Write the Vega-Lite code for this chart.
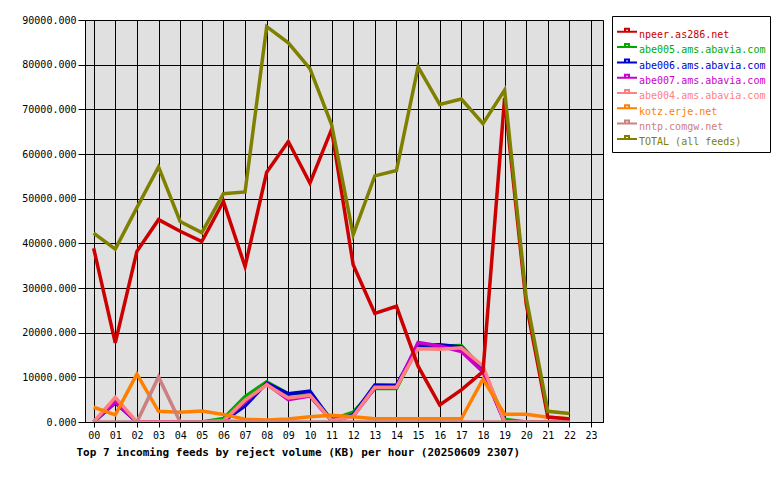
{
  "$schema": "https://vega.github.io/schema/vega-lite/v6.json",
  "width": 518,
  "height": 402,
  "autosize": {"type": "none"},
  "padding": {"left": 85, "top": 20, "right": 177, "bottom": 58},
  "background": "white",
  "config": {
    "font": "DejaVu Sans Mono",
    "view": {"fill": "#e0e0e0", "stroke": "black", "strokeWidth": 1},
    "axis": {
      "grid": true,
      "gridColor": "black",
      "gridOpacity": 1,
      "gridWidth": 1,
      "domainColor": "black",
      "tickColor": "black",
      "labelColor": "black",
      "labelFont": "DejaVu Sans Mono",
      "labelFontSize": 10,
      "labelOverlap": false,
      "labelFlush": false
    }
  },
  "data": {
    "values": [
      {"h":0,"f":"abe005.ams.abavia.com","v":0},{"h":1,"f":"abe005.ams.abavia.com","v":4600},{"h":2,"f":"abe005.ams.abavia.com","v":0},{"h":3,"f":"abe005.ams.abavia.com","v":0},{"h":4,"f":"abe005.ams.abavia.com","v":0},{"h":5,"f":"abe005.ams.abavia.com","v":0},{"h":6,"f":"abe005.ams.abavia.com","v":800},{"h":7,"f":"abe005.ams.abavia.com","v":5700},{"h":8,"f":"abe005.ams.abavia.com","v":9000},{"h":9,"f":"abe005.ams.abavia.com","v":6300},{"h":10,"f":"abe005.ams.abavia.com","v":6500},{"h":11,"f":"abe005.ams.abavia.com","v":500},{"h":12,"f":"abe005.ams.abavia.com","v":2200},{"h":13,"f":"abe005.ams.abavia.com","v":7500},{"h":14,"f":"abe005.ams.abavia.com","v":7500},{"h":15,"f":"abe005.ams.abavia.com","v":16800},{"h":16,"f":"abe005.ams.abavia.com","v":17000},{"h":17,"f":"abe005.ams.abavia.com","v":17100},{"h":18,"f":"abe005.ams.abavia.com","v":11800},{"h":19,"f":"abe005.ams.abavia.com","v":600},{"h":20,"f":"abe005.ams.abavia.com","v":0},{"h":21,"f":"abe005.ams.abavia.com","v":0},{"h":22,"f":"abe005.ams.abavia.com","v":0},
      {"h":0,"f":"abe006.ams.abavia.com","v":0},{"h":1,"f":"abe006.ams.abavia.com","v":4300},{"h":2,"f":"abe006.ams.abavia.com","v":0},{"h":3,"f":"abe006.ams.abavia.com","v":0},{"h":4,"f":"abe006.ams.abavia.com","v":0},{"h":5,"f":"abe006.ams.abavia.com","v":0},{"h":6,"f":"abe006.ams.abavia.com","v":200},{"h":7,"f":"abe006.ams.abavia.com","v":3600},{"h":8,"f":"abe006.ams.abavia.com","v":8700},{"h":9,"f":"abe006.ams.abavia.com","v":6300},{"h":10,"f":"abe006.ams.abavia.com","v":6900},{"h":11,"f":"abe006.ams.abavia.com","v":200},{"h":12,"f":"abe006.ams.abavia.com","v":1600},{"h":13,"f":"abe006.ams.abavia.com","v":8300},{"h":14,"f":"abe006.ams.abavia.com","v":8200},{"h":15,"f":"abe006.ams.abavia.com","v":17200},{"h":16,"f":"abe006.ams.abavia.com","v":17300},{"h":17,"f":"abe006.ams.abavia.com","v":16800},{"h":18,"f":"abe006.ams.abavia.com","v":11800},{"h":19,"f":"abe006.ams.abavia.com","v":0},{"h":20,"f":"abe006.ams.abavia.com","v":0},{"h":21,"f":"abe006.ams.abavia.com","v":0},{"h":22,"f":"abe006.ams.abavia.com","v":0},
      {"h":0,"f":"abe007.ams.abavia.com","v":0},{"h":1,"f":"abe007.ams.abavia.com","v":4500},{"h":2,"f":"abe007.ams.abavia.com","v":0},{"h":3,"f":"abe007.ams.abavia.com","v":0},{"h":4,"f":"abe007.ams.abavia.com","v":0},{"h":5,"f":"abe007.ams.abavia.com","v":0},{"h":6,"f":"abe007.ams.abavia.com","v":200},{"h":7,"f":"abe007.ams.abavia.com","v":4500},{"h":8,"f":"abe007.ams.abavia.com","v":8500},{"h":9,"f":"abe007.ams.abavia.com","v":5000},{"h":10,"f":"abe007.ams.abavia.com","v":5800},{"h":11,"f":"abe007.ams.abavia.com","v":300},{"h":12,"f":"abe007.ams.abavia.com","v":1300},{"h":13,"f":"abe007.ams.abavia.com","v":7600},{"h":14,"f":"abe007.ams.abavia.com","v":7700},{"h":15,"f":"abe007.ams.abavia.com","v":17800},{"h":16,"f":"abe007.ams.abavia.com","v":17000},{"h":17,"f":"abe007.ams.abavia.com","v":15800},{"h":18,"f":"abe007.ams.abavia.com","v":11200},{"h":19,"f":"abe007.ams.abavia.com","v":0},{"h":20,"f":"abe007.ams.abavia.com","v":0},{"h":21,"f":"abe007.ams.abavia.com","v":0},{"h":22,"f":"abe007.ams.abavia.com","v":0},
      {"h":0,"f":"abe004.ams.abavia.com","v":0},{"h":1,"f":"abe004.ams.abavia.com","v":5500},{"h":2,"f":"abe004.ams.abavia.com","v":0},{"h":3,"f":"abe004.ams.abavia.com","v":0},{"h":4,"f":"abe004.ams.abavia.com","v":0},{"h":5,"f":"abe004.ams.abavia.com","v":0},{"h":6,"f":"abe004.ams.abavia.com","v":300},{"h":7,"f":"abe004.ams.abavia.com","v":4900},{"h":8,"f":"abe004.ams.abavia.com","v":8300},{"h":9,"f":"abe004.ams.abavia.com","v":5400},{"h":10,"f":"abe004.ams.abavia.com","v":6000},{"h":11,"f":"abe004.ams.abavia.com","v":300},{"h":12,"f":"abe004.ams.abavia.com","v":1300},{"h":13,"f":"abe004.ams.abavia.com","v":7800},{"h":14,"f":"abe004.ams.abavia.com","v":7800},{"h":15,"f":"abe004.ams.abavia.com","v":16400},{"h":16,"f":"abe004.ams.abavia.com","v":16300},{"h":17,"f":"abe004.ams.abavia.com","v":16600},{"h":18,"f":"abe004.ams.abavia.com","v":12500},{"h":19,"f":"abe004.ams.abavia.com","v":0},{"h":20,"f":"abe004.ams.abavia.com","v":0},{"h":21,"f":"abe004.ams.abavia.com","v":0},{"h":22,"f":"abe004.ams.abavia.com","v":0},
      {"h":0,"f":"kotz.erje.net","v":3300},{"h":1,"f":"kotz.erje.net","v":1600},{"h":2,"f":"kotz.erje.net","v":10700},{"h":3,"f":"kotz.erje.net","v":2400},{"h":4,"f":"kotz.erje.net","v":2200},{"h":5,"f":"kotz.erje.net","v":2450},{"h":6,"f":"kotz.erje.net","v":1700},{"h":7,"f":"kotz.erje.net","v":600},{"h":8,"f":"kotz.erje.net","v":450},{"h":9,"f":"kotz.erje.net","v":650},{"h":10,"f":"kotz.erje.net","v":1200},{"h":11,"f":"kotz.erje.net","v":1500},{"h":12,"f":"kotz.erje.net","v":1200},{"h":13,"f":"kotz.erje.net","v":750},{"h":14,"f":"kotz.erje.net","v":750},{"h":15,"f":"kotz.erje.net","v":700},{"h":16,"f":"kotz.erje.net","v":700},{"h":17,"f":"kotz.erje.net","v":700},{"h":18,"f":"kotz.erje.net","v":9600},{"h":19,"f":"kotz.erje.net","v":1750},{"h":20,"f":"kotz.erje.net","v":1750},{"h":21,"f":"kotz.erje.net","v":1050},{"h":22,"f":"kotz.erje.net","v":750},
      {"h":0,"f":"nntp.comgw.net","v":0},{"h":1,"f":"nntp.comgw.net","v":0},{"h":2,"f":"nntp.comgw.net","v":0},{"h":3,"f":"nntp.comgw.net","v":10100},{"h":4,"f":"nntp.comgw.net","v":0},{"h":5,"f":"nntp.comgw.net","v":0},{"h":6,"f":"nntp.comgw.net","v":300},{"h":7,"f":"nntp.comgw.net","v":0},{"h":8,"f":"nntp.comgw.net","v":0},{"h":9,"f":"nntp.comgw.net","v":0},{"h":10,"f":"nntp.comgw.net","v":0},{"h":11,"f":"nntp.comgw.net","v":0},{"h":12,"f":"nntp.comgw.net","v":0},{"h":13,"f":"nntp.comgw.net","v":0},{"h":14,"f":"nntp.comgw.net","v":0},{"h":15,"f":"nntp.comgw.net","v":0},{"h":16,"f":"nntp.comgw.net","v":0},{"h":17,"f":"nntp.comgw.net","v":0},{"h":18,"f":"nntp.comgw.net","v":0},{"h":19,"f":"nntp.comgw.net","v":0},{"h":20,"f":"nntp.comgw.net","v":0},{"h":21,"f":"nntp.comgw.net","v":0},{"h":22,"f":"nntp.comgw.net","v":0},
      {"h":0,"f":"npeer.as286.net","v":38900},{"h":1,"f":"npeer.as286.net","v":17700},{"h":2,"f":"npeer.as286.net","v":38200},{"h":3,"f":"npeer.as286.net","v":45300},{"h":4,"f":"npeer.as286.net","v":42700},{"h":5,"f":"npeer.as286.net","v":40400},{"h":6,"f":"npeer.as286.net","v":49400},{"h":7,"f":"npeer.as286.net","v":34800},{"h":8,"f":"npeer.as286.net","v":55900},{"h":9,"f":"npeer.as286.net","v":62800},{"h":10,"f":"npeer.as286.net","v":53500},{"h":11,"f":"npeer.as286.net","v":65500},{"h":12,"f":"npeer.as286.net","v":35200},{"h":13,"f":"npeer.as286.net","v":24300},{"h":14,"f":"npeer.as286.net","v":25900},{"h":15,"f":"npeer.as286.net","v":12500},{"h":16,"f":"npeer.as286.net","v":3800},{"h":17,"f":"npeer.as286.net","v":7200},{"h":18,"f":"npeer.as286.net","v":11300},{"h":19,"f":"npeer.as286.net","v":72500},{"h":20,"f":"npeer.as286.net","v":26500},{"h":21,"f":"npeer.as286.net","v":1100},{"h":22,"f":"npeer.as286.net","v":700},
      {"h":0,"f":"TOTAL (all feeds)","v":42300},{"h":1,"f":"TOTAL (all feeds)","v":38700},{"h":2,"f":"TOTAL (all feeds)","v":48000},{"h":3,"f":"TOTAL (all feeds)","v":57100},{"h":4,"f":"TOTAL (all feeds)","v":44900},{"h":5,"f":"TOTAL (all feeds)","v":42400},{"h":6,"f":"TOTAL (all feeds)","v":51100},{"h":7,"f":"TOTAL (all feeds)","v":51500},{"h":8,"f":"TOTAL (all feeds)","v":88500},{"h":9,"f":"TOTAL (all feeds)","v":84900},{"h":10,"f":"TOTAL (all feeds)","v":79100},{"h":11,"f":"TOTAL (all feeds)","v":66600},{"h":12,"f":"TOTAL (all feeds)","v":41900},{"h":13,"f":"TOTAL (all feeds)","v":55100},{"h":14,"f":"TOTAL (all feeds)","v":56300},{"h":15,"f":"TOTAL (all feeds)","v":79500},{"h":16,"f":"TOTAL (all feeds)","v":71100},{"h":17,"f":"TOTAL (all feeds)","v":72300},{"h":18,"f":"TOTAL (all feeds)","v":66800},{"h":19,"f":"TOTAL (all feeds)","v":74300},{"h":20,"f":"TOTAL (all feeds)","v":27800},{"h":21,"f":"TOTAL (all feeds)","v":2400},{"h":22,"f":"TOTAL (all feeds)","v":1900}
    ]
  },
  "mark": {"type": "line", "strokeWidth": 3.5, "clip": true},
  "encoding": {
    "x": {
      "field": "h",
      "type": "quantitative",
      "scale": {"domain": [-0.4, 23.55], "nice": false, "zero": false},
      "axis": {
        "values": [0,1,2,3,4,5,6,7,8,9,10,11,12,13,14,15,16,17,18,19,20,21,22,23],
        "labelExpr": "datum.value < 10 ? '0' + datum.value : '' + datum.value",
        "tickSize": 5,
        "labelPadding": 3,
        "title": "Top 7 incoming feeds by reject volume (KB) per hour (20250609 2307)",
        "titleFont": "DejaVu Sans Mono",
        "titleFontSize": 11,
        "titleFontWeight": "bold",
        "titleColor": "black",
        "titleAlign": "left",
        "titleAnchor": "start",
        "titleBaseline": "alphabetic",
        "titleX": -9,
        "titleY": 33
      }
    },
    "y": {
      "field": "v",
      "type": "quantitative",
      "scale": {"domain": [0, 90000], "nice": false},
      "axis": {
        "values": [0,10000,20000,30000,40000,50000,60000,70000,80000,90000],
        "format": ".3f",
        "tickSize": 7,
        "labelPadding": 2,
        "title": null
      }
    },
    "color": {
      "field": "f",
      "type": "nominal",
      "scale": {
        "domain": ["npeer.as286.net","abe005.ams.abavia.com","abe006.ams.abavia.com","abe007.ams.abavia.com","abe004.ams.abavia.com","kotz.erje.net","nntp.comgw.net","TOTAL (all feeds)"],
        "range": ["#cc0000","#00aa00","#0000cc","#cc00cc","#ff8080","#ff8000","#cc8080","#808000"]
      },
      "legend": {
        "orient": "none",
        "legendX": 527,
        "legendY": -4,
        "title": " ",
        "titleFontSize": 5,
        "titlePadding": 4,
        "strokeColor": "black",
        "fillColor": "white",
        "padding": 4,
        "symbolType": "M-2,-0.64H2M-0.4,-0.64V-1.24H0.4V-0.64",
        "symbolSize": 100,
        "symbolStrokeWidth": 2,
        "symbolFillColor": "transparent",
        "symbolOffset": 5,
        "labelOffset": 6,
        "labelFont": "DejaVu Sans Mono",
        "labelFontSize": 10,
        "labelLimit": 0,
        "rowPadding": -0.7,
        "labelColor": {"expr": "scale('color', datum.value)"}
      }
    }
  }
}
